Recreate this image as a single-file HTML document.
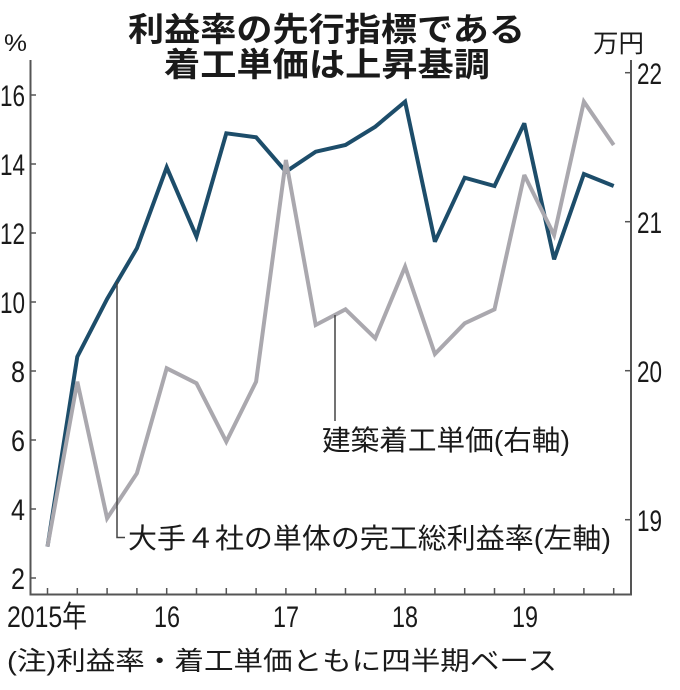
<!DOCTYPE html>
<html>
<head>
<meta charset="utf-8">
<style>
  html, body { margin:0; padding:0; background:#fff; }
  svg { display:block; }
  text { font-family: "Liberation Sans", "Noto Sans CJK JP", sans-serif; fill:#1a1a1a; }
  .jp { font-family: "Liberation Sans", "Noto Sans CJK JP", sans-serif; }
</style>
</head>
<body>
<svg width="680" height="690" viewBox="0 0 680 690" xmlns="http://www.w3.org/2000/svg">
  <rect width="680" height="690" fill="#fff"/>

  <!-- Title -->
  <text x="128" y="41" font-size="33" font-weight="bold" textLength="397" lengthAdjust="spacingAndGlyphs" class="jp">利益率の先行指標である</text>
  <text x="164" y="76" font-size="33" font-weight="bold" textLength="326" lengthAdjust="spacingAndGlyphs" class="jp">着工単価は上昇基調</text>

  <!-- unit labels -->
  <text x="4" y="51" font-size="24" textLength="23" lengthAdjust="spacingAndGlyphs">%</text>
  <text x="593" y="52" font-size="25" textLength="51" lengthAdjust="spacingAndGlyphs" class="jp">万円</text>

  <!-- Axes -->
  <g stroke="#555" stroke-width="2" fill="none">
    <line x1="30.5" y1="60" x2="30.5" y2="595"/>
    <line x1="631" y1="60" x2="631" y2="595"/>
    <line x1="29.5" y1="594.5" x2="632" y2="594.5"/>
  </g>

  <!-- Left ticks -->
  <g stroke="#555" stroke-width="1.5">
    <line x1="30" y1="95" x2="36" y2="95"/>
    <line x1="30" y1="164" x2="36" y2="164"/>
    <line x1="30" y1="233" x2="36" y2="233"/>
    <line x1="30" y1="302" x2="36" y2="302"/>
    <line x1="30" y1="371" x2="36" y2="371"/>
    <line x1="30" y1="440" x2="36" y2="440"/>
    <line x1="30" y1="509" x2="36" y2="509"/>
    <line x1="30" y1="578" x2="36" y2="578"/>
  </g>
  <!-- Right ticks -->
  <g stroke="#555" stroke-width="1.5">
    <line x1="625" y1="72.7" x2="631" y2="72.7"/>
    <line x1="625" y1="221.7" x2="631" y2="221.7"/>
    <line x1="625" y1="370.7" x2="631" y2="370.7"/>
    <line x1="625" y1="519.7" x2="631" y2="519.7"/>
  </g>
  <!-- Bottom ticks -->
  <g stroke="#555" stroke-width="1.5">
    <line x1="47.5" y1="588" x2="47.5" y2="594"/>
    <line x1="77.3" y1="588" x2="77.3" y2="594"/>
    <line x1="107.1" y1="588" x2="107.1" y2="594"/>
    <line x1="136.9" y1="588" x2="136.9" y2="594"/>
    <line x1="166.7" y1="588" x2="166.7" y2="594"/>
    <line x1="196.5" y1="588" x2="196.5" y2="594"/>
    <line x1="226.3" y1="588" x2="226.3" y2="594"/>
    <line x1="256.1" y1="588" x2="256.1" y2="594"/>
    <line x1="285.9" y1="588" x2="285.9" y2="594"/>
    <line x1="315.7" y1="588" x2="315.7" y2="594"/>
    <line x1="345.5" y1="588" x2="345.5" y2="594"/>
    <line x1="375.3" y1="588" x2="375.3" y2="594"/>
    <line x1="405.1" y1="588" x2="405.1" y2="594"/>
    <line x1="434.9" y1="588" x2="434.9" y2="594"/>
    <line x1="464.7" y1="588" x2="464.7" y2="594"/>
    <line x1="494.5" y1="588" x2="494.5" y2="594"/>
    <line x1="524.3" y1="588" x2="524.3" y2="594"/>
    <line x1="554.1" y1="588" x2="554.1" y2="594"/>
    <line x1="583.9" y1="588" x2="583.9" y2="594"/>
    <line x1="613.7" y1="588" x2="613.7" y2="594"/>
  </g>

  <!-- Left tick labels -->
  <g font-size="30">
    <text x="0" y="106" textLength="25" lengthAdjust="spacingAndGlyphs">16</text>
    <text x="0" y="175" textLength="25" lengthAdjust="spacingAndGlyphs">14</text>
    <text x="0" y="244" textLength="25" lengthAdjust="spacingAndGlyphs">12</text>
    <text x="0" y="313" textLength="25" lengthAdjust="spacingAndGlyphs">10</text>
    <text x="11" y="382" textLength="14" lengthAdjust="spacingAndGlyphs">8</text>
    <text x="11" y="451" textLength="14" lengthAdjust="spacingAndGlyphs">6</text>
    <text x="11" y="520" textLength="14" lengthAdjust="spacingAndGlyphs">4</text>
    <text x="11" y="589" textLength="14" lengthAdjust="spacingAndGlyphs">2</text>
  </g>
  <!-- Right tick labels -->
  <g font-size="30">
    <text x="637" y="84" textLength="25" lengthAdjust="spacingAndGlyphs">22</text>
    <text x="637" y="233" textLength="25" lengthAdjust="spacingAndGlyphs">21</text>
    <text x="637" y="382" textLength="25" lengthAdjust="spacingAndGlyphs">20</text>
    <text x="637" y="531" textLength="25" lengthAdjust="spacingAndGlyphs">19</text>
  </g>
  <!-- X labels -->
  <g font-size="30">
    <text x="7" y="627" textLength="80" lengthAdjust="spacingAndGlyphs" class="jp">2015年</text>
    <text x="154" y="627" textLength="26" lengthAdjust="spacingAndGlyphs">16</text>
    <text x="273" y="627" textLength="26" lengthAdjust="spacingAndGlyphs">17</text>
    <text x="392" y="627" textLength="26" lengthAdjust="spacingAndGlyphs">18</text>
    <text x="512" y="627" textLength="26" lengthAdjust="spacingAndGlyphs">19</text>
  </g>

  <!-- Series: blue (left axis) -->
  <polyline fill="none" stroke="#1d4d6a" stroke-width="4" stroke-linejoin="miter" stroke-miterlimit="3"
    points="47.5,546.7 77.3,356.7 107.1,299 136.9,248.3 166.7,167.3 196.5,236.7 226.3,133.3 256.1,137.3 285.9,171.7 315.7,151.7 345.5,145 375.3,126.7 405.1,101.7 434.9,241.7 464.7,177.7 494.5,186 524.3,123.3 554.1,259.3 583.9,174 613.7,186"/>
  <!-- Series: grey (right axis) -->
  <polyline fill="none" stroke="#aaa8ae" stroke-width="4" stroke-linejoin="miter" stroke-miterlimit="3"
    points="47.5,546.7 77.3,381.7 107.1,518.3 136.9,473.3 166.7,368.3 196.5,383.3 226.3,441.7 256.1,381.7 285.9,160 315.7,325 345.5,309.3 375.3,338.3 405.1,266.7 434.9,354 464.7,323.3 494.5,309.3 524.3,175 554.1,235 583.9,101.7 613.7,145"/>

  <!-- Leader lines -->
  <polyline fill="none" stroke="#444" stroke-width="1.5" points="117,282 117,537.5 125,537.5"/>
  <line x1="335" y1="315" x2="335" y2="421" stroke="#444" stroke-width="1.5"/>

  <!-- Series labels -->
  <text x="128" y="548" font-size="28" textLength="483" lengthAdjust="spacingAndGlyphs" class="jp">大手４社の単体の完工総利益率(左軸)</text>
  <text x="322" y="450" font-size="28" textLength="248" lengthAdjust="spacingAndGlyphs" class="jp">建築着工単価(右軸)</text>

  <!-- Footnote -->
  <text x="7" y="670" font-size="26" textLength="550" lengthAdjust="spacingAndGlyphs" class="jp">(注)利益率・着工単価ともに四半期ベース</text>
</svg>
</body>
</html>
